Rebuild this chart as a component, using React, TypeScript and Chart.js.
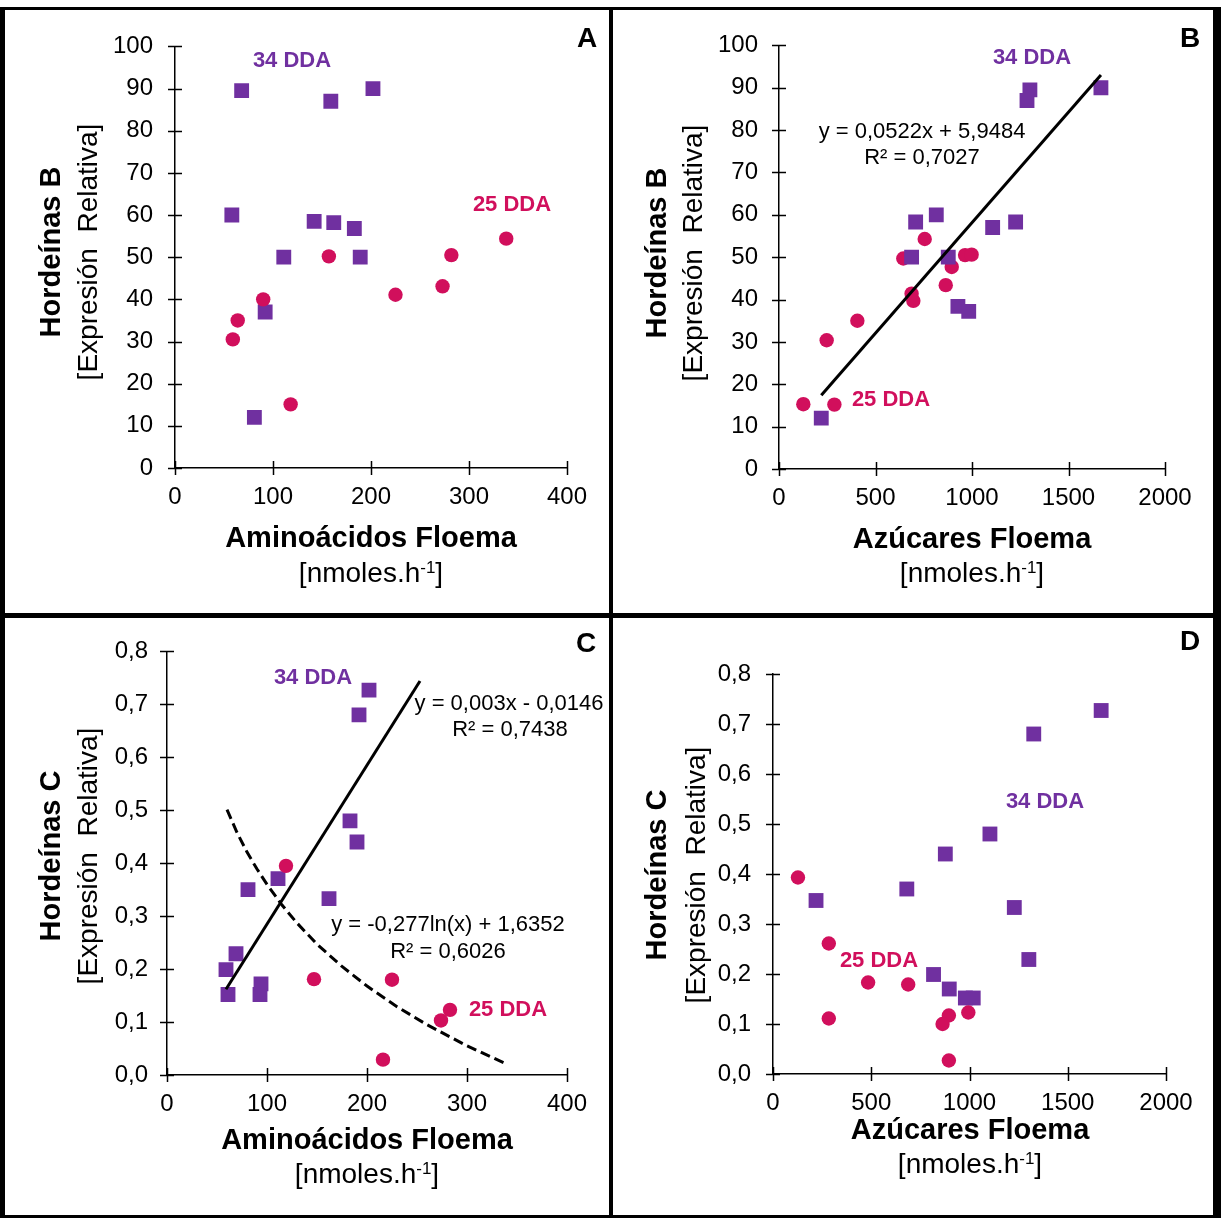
import React, { useEffect, useRef } from 'react';
import { Chart, registerables } from 'chart.js';

Chart.register(...registerables);

const PURPLE = '#7030A0';
const MAGENTA = '#D10F5C';
const FONT = '"Liberation Sans", Arial, sans-serif';

// ---------- tick labels ----------
const aminoTicks = [0, 100, 200, 300, 400];
const sugarTicks = [0, 500, 1000, 1500, 2000];
const hordBTicks = [0, 10, 20, 30, 40, 50, 60, 70, 80, 90, 100];
const hordCTicks = [0, 0.1, 0.2, 0.3, 0.4, 0.5, 0.6, 0.7, 0.8];

// ---------- Panel A: Hordeínas B vs Aminoácidos ----------
const aSq34X = [68, 159, 202, 58, 142, 162, 183, 111, 189, 92, 81];
const aSq34Y = [89.5, 87, 90, 60, 58.5, 58.2, 56.8, 50, 50, 37, 12];
const aCi25X = [338, 282, 157, 273, 225, 90, 64, 59, 118];
const aCi25Y = [54.4, 50.5, 50.2, 43.1, 41.1, 40, 35, 30.5, 15.1];

// ---------- Panel B: Hordeínas B vs Azúcares ----------
const bSq34X = [1668, 1300, 1285, 815, 708, 1226, 1107, 687, 877, 927, 983, 219];
const bSq34Y = [90, 89.5, 87, 60, 58.3, 58.3, 57, 50, 50, 38.4, 37.2, 12];
const bCi25X = [126, 287, 247, 406, 644, 755, 895, 864, 687, 696, 964, 998];
const bCi25Y = [15.3, 15.2, 30.4, 35, 49.7, 54.3, 47.7, 43.4, 41.4, 39.7, 50.5, 50.6];
const bTrendX = [219, 1668];
const bTrendY = [17.4, 93.0];

// ---------- Panel C: Hordeínas C vs Aminoácidos ----------
const cSq34X = [202, 192, 183, 190, 111, 81, 162, 69, 59, 61, 94, 93];
const cSq34Y = [0.727, 0.68, 0.48, 0.44, 0.371, 0.35, 0.333, 0.229, 0.199, 0.152, 0.172, 0.152];
const cCi25X = [119, 147, 225, 283, 274, 216];
const cCi25Y = [0.395, 0.181, 0.18, 0.123, 0.103, 0.029];
const cLinX = [59, 253];
const cLinY = [0.162, 0.744];
const cLogX = [60, 70, 80, 90, 100, 115, 130, 150, 175, 200, 230, 260, 300, 338];
const cLogY = [0.501, 0.458, 0.421, 0.389, 0.36, 0.321, 0.287, 0.247, 0.205, 0.168, 0.129, 0.095, 0.055, 0.022];

// ---------- Panel D: Hordeínas C vs Azúcares ----------
const dSq34X = [1670, 1327, 1104, 877, 681, 219, 1228, 1302, 817, 897, 979, 1019];
const dSq34Y = [0.727, 0.68, 0.48, 0.44, 0.37, 0.347, 0.333, 0.229, 0.199, 0.17, 0.152, 0.152];
const dCi25X = [127, 284, 484, 688, 284, 895, 863, 994, 895];
const dCi25Y = [0.393, 0.261, 0.183, 0.179, 0.111, 0.117, 0.1, 0.123, 0.027];

const pts = (xs: number[], ys: number[]) => xs.map((x, i) => ({ x, y: ys[i] }));

const squares = (xs: number[], ys: number[], order = 0) => ({
  label: '34 DDA',
  data: pts(xs, ys),
  pointStyle: 'rect',
  pointRadius: 10.5,
  backgroundColor: PURPLE,
  borderColor: PURPLE,
  borderWidth: 0,
  showLine: false,
  order,
});
const circles = (xs: number[], ys: number[], order = 0) => ({
  label: '25 DDA',
  data: pts(xs, ys),
  pointStyle: 'circle',
  pointRadius: 7.2,
  backgroundColor: MAGENTA,
  borderColor: MAGENTA,
  borderWidth: 0,
  showLine: false,
  order,
});
const trend = (xs: number[], ys: number[], dashed = false) => ({
  label: 'trend',
  data: pts(xs, ys),
  showLine: true,
  pointRadius: 0,
  borderColor: '#000',
  borderWidth: 3,
  borderDash: dashed ? [10, 5] : [],
  fill: false,
  order: -1,
});

type Txt = { t: string; x: number; y: number; size: number; bold?: boolean; color?: string };

const fmtInt = (v: number) => String(v);
const fmtDec = (v: number) => Number(v).toFixed(1).replace('.', ',');

const panels = [
  {
    id: 'A',
    canvas: { left: 5, top: 10, w: 604, h: 603 },
    area: { left: 175, right: 567, top: 35, bottom: 468 },
    xTicks: aminoTicks, yTicks: hordBTicks, yFmt: fmtInt, yPad: 22,
    datasets: [circles(aCi25X, aCi25Y), squares(aSq34X, aSq34Y)],
    yTitle: { bold: 'Hordeínas B', bx: 52, rx: 89, cy: 252 },
    xTitle: { bold: 'Aminoácidos Floema', cx: 371, by: 539, ry: 572 },
    texts: [
      { t: 'A', x: 587, y: 39, size: 28, bold: true },
      { t: '34 DDA', x: 292, y: 61, size: 22, bold: true, color: PURPLE },
      { t: '25 DDA', x: 512, y: 205, size: 22, bold: true, color: MAGENTA },
    ] as Txt[],
  },
  {
    id: 'B',
    canvas: { left: 613, top: 10, w: 600, h: 603 },
    area: { left: 779, right: 1165, top: 35, bottom: 469 },
    xTicks: sugarTicks, yTicks: hordBTicks, yFmt: fmtInt, yPad: 21,
    datasets: [trend(bTrendX, bTrendY), squares(bSq34X, bSq34Y), circles(bCi25X, bCi25Y)],
    yTitle: { bold: 'Hordeínas B', bx: 658, rx: 694, cy: 253 },
    xTitle: { bold: 'Azúcares Floema', cx: 972, by: 540, ry: 572 },
    texts: [
      { t: 'B', x: 1190, y: 39, size: 28, bold: true },
      { t: '34 DDA', x: 1032, y: 58, size: 22, bold: true, color: PURPLE },
      { t: '25 DDA', x: 891, y: 400, size: 22, bold: true, color: MAGENTA },
      { t: 'y = 0,0522x + 5,9484', x: 922, y: 132, size: 22 },
      { t: 'R² = 0,7027', x: 922, y: 158, size: 22 },
    ] as Txt[],
  },
  {
    id: 'C',
    canvas: { left: 5, top: 618, w: 604, h: 597 },
    area: { left: 167, right: 567, top: 642, bottom: 1075 },
    xTicks: aminoTicks, yTicks: hordCTicks, yFmt: fmtDec, yPad: 19,
    datasets: [trend(cLinX, cLinY), trend(cLogX, cLogY, true), circles(cCi25X, cCi25Y), squares(cSq34X, cSq34Y)],
    yTitle: { bold: 'Hordeínas C', bx: 52, rx: 89, cy: 856 },
    xTitle: { bold: 'Aminoácidos Floema', cx: 367, by: 1141, ry: 1173 },
    texts: [
      { t: 'C', x: 586, y: 644, size: 28, bold: true },
      { t: '34 DDA', x: 313, y: 678, size: 22, bold: true, color: PURPLE },
      { t: '25 DDA', x: 508, y: 1010, size: 22, bold: true, color: MAGENTA },
      { t: 'y = 0,003x - 0,0146', x: 509, y: 704, size: 22 },
      { t: 'R² = 0,7438', x: 510, y: 730, size: 22 },
      { t: 'y = -0,277ln(x) + 1,6352', x: 448, y: 925, size: 22 },
      { t: 'R² = 0,6026', x: 448, y: 952, size: 22 },
    ] as Txt[],
  },
  {
    id: 'D',
    canvas: { left: 613, top: 618, w: 600, h: 597 },
    area: { left: 773, right: 1166, top: 674, bottom: 1074 },
    xTicks: sugarTicks, yTicks: hordCTicks, yFmt: fmtDec, yPad: 22,
    datasets: [circles(dCi25X, dCi25Y), squares(dSq34X, dSq34Y)],
    yTitle: { bold: 'Hordeínas C', bx: 658, rx: 697, cy: 875 },
    xTitle: { bold: 'Azúcares Floema', cx: 970, by: 1131, ry: 1163 },
    texts: [
      { t: 'D', x: 1190, y: 642, size: 28, bold: true },
      { t: '34 DDA', x: 1045, y: 802, size: 22, bold: true, color: PURPLE },
      { t: '25 DDA', x: 879, y: 961, size: 22, bold: true, color: MAGENTA },
    ] as Txt[],
  },
];

const YW = 70;
const XH = 50;

function decoPlugin(cfg: any) {
  return {
    id: 'deco' + cfg.id,
    afterDraw(chart: any) {
      const ctx = chart.ctx as CanvasRenderingContext2D;
      const ox = cfg.canvas.left;
      const oy = cfg.canvas.top;
      const xs = chart.scales.x;
      const ys = chart.scales.y;
      const ax = chart.chartArea.left;
      const ay = chart.chartArea.bottom;
      ctx.save();
      // cross tick marks
      ctx.strokeStyle = '#000';
      ctx.lineWidth = 1.5;
      ctx.beginPath();
      xs.ticks.forEach((t: any) => {
        const px = Math.round(xs.getPixelForValue(t.value)) + 0.5;
        ctx.moveTo(px, ay - 7);
        ctx.lineTo(px, ay + 7);
      });
      ys.ticks.forEach((t: any) => {
        const py = Math.round(ys.getPixelForValue(t.value)) + 0.5;
        ctx.moveTo(ax - 7, py);
        ctx.lineTo(ax + 7, py);
      });
      ctx.stroke();

      ctx.textAlign = 'center';
      ctx.textBaseline = 'middle';
      // free texts
      cfg.texts.forEach((tx: Txt) => {
        ctx.font = `${tx.bold ? 'bold ' : ''}${tx.size}px ${FONT}`;
        ctx.fillStyle = tx.color || '#000';
        ctx.fillText(tx.t, tx.x - ox, tx.y - oy);
      });

      // y titles (rotated)
      const yt = cfg.yTitle;
      ctx.fillStyle = '#000';
      ctx.save();
      ctx.translate(yt.bx - ox, yt.cy - oy);
      ctx.rotate(-Math.PI / 2);
      ctx.font = `bold 29px ${FONT}`;
      ctx.fillText(yt.bold, 0, 0);
      ctx.restore();
      ctx.save();
      ctx.translate(yt.rx - ox, yt.cy - oy);
      ctx.rotate(-Math.PI / 2);
      ctx.font = `28px ${FONT}`;
      ctx.fillText('[Expresión  Relativa]', 0, 0);
      ctx.restore();

      // x titles
      const xt = cfg.xTitle;
      ctx.font = `bold 29px ${FONT}`;
      ctx.fillText(xt.bold, xt.cx - ox, xt.by - oy);
      // "[nmoles.h-1]" with superscript
      const main = 28;
      const sup = 17;
      ctx.font = `${main}px ${FONT}`;
      const p1 = '[nmoles.h';
      const p3 = ']';
      const w1 = ctx.measureText(p1).width;
      const w3 = ctx.measureText(p3).width;
      ctx.font = `${sup}px ${FONT}`;
      const p2 = '-1';
      const w2 = ctx.measureText(p2).width;
      const total = w1 + w2 + w3;
      let sx = xt.cx - ox - total / 2;
      const base = xt.ry - oy + 0.35 * main;
      ctx.textAlign = 'left';
      ctx.textBaseline = 'alphabetic';
      ctx.font = `${main}px ${FONT}`;
      ctx.fillText(p1, sx, base);
      sx += w1;
      ctx.font = `${sup}px ${FONT}`;
      ctx.fillText(p2, sx, base - 0.32 * main);
      sx += w2;
      ctx.font = `${main}px ${FONT}`;
      ctx.fillText(p3, sx, base);
      ctx.restore();
    },
  };
}

function Panel({ cfg }: { cfg: any }) {
  const ref = useRef<HTMLCanvasElement>(null);
  useEffect(() => {
    const canvas = ref.current!;
    const { canvas: cr, area } = cfg;
    const tickFont = { family: FONT, size: 24 };
    const chart = new Chart(canvas, {
      type: 'scatter',
      data: { datasets: cfg.datasets },
      options: {
        responsive: false,
        animation: false,
        devicePixelRatio: 1,
        events: [],
        layout: {
          padding: {
            left: area.left - cr.left - YW,
            top: area.top - cr.top,
            right: cr.left + cr.w - area.right,
            bottom: cr.top + cr.h - area.bottom - XH,
          },
        },
        plugins: { legend: { display: false }, tooltip: { enabled: false } },
        scales: {
          x: {
            type: 'linear',
            position: 'bottom',
            min: cfg.xTicks[0],
            max: cfg.xTicks[cfg.xTicks.length - 1],
            afterFit: (s: any) => { s.height = XH; },
            afterBuildTicks: (s: any) => { s.ticks = cfg.xTicks.map((v: number) => ({ value: v })); },
            ticks: {
              font: tickFont,
              color: '#000',
              padding: 15,
              autoSkip: false,
              maxRotation: 0,
              callback: (v: any) => String(v),
            },
            grid: { display: false, drawTicks: false },
            border: { display: true, color: '#000', width: 1.5 },
          },
          y: {
            type: 'linear',
            position: 'left',
            min: cfg.yTicks[0],
            max: cfg.yTicks[cfg.yTicks.length - 1],
            afterFit: (s: any) => { s.width = YW; },
            afterBuildTicks: (s: any) => { s.ticks = cfg.yTicks.map((v: number) => ({ value: v })); },
            ticks: {
              font: tickFont,
              color: '#000',
              padding: cfg.yPad,
              autoSkip: false,
              callback: (v: any) => cfg.yFmt(v),
            },
            grid: { display: false, drawTicks: false },
            border: { display: true, color: '#000', width: 1.5 },
          },
        },
      } as any,
      plugins: [decoPlugin(cfg)],
    });
    return () => chart.destroy();
  }, [cfg]);
  return (
    <canvas
      ref={ref}
      width={cfg.canvas.w}
      height={cfg.canvas.h}
      style={{ position: 'absolute', left: cfg.canvas.left, top: cfg.canvas.top, width: cfg.canvas.w, height: cfg.canvas.h }}
    />
  );
}

const bar = (left: number, top: number, width: number, height: number) => (
  <div style={{ position: 'absolute', left, top, width, height, background: '#000' }} />
);

export default function App() {
  return (
    <div style={{ position: 'absolute', left: 0, top: 0, width: 1221, height: 1218, background: '#fff', overflow: 'hidden' }}>
      {panels.map((p) => (
        <Panel key={p.id} cfg={p} />
      ))}
      {bar(0, 7, 1221, 3)}
      {bar(0, 7, 5, 1211)}
      {bar(1213, 7, 8, 1211)}
      {bar(0, 1215, 1221, 3)}
      {bar(609, 7, 4, 1211)}
      {bar(0, 613, 1221, 5)}
    </div>
  );
}
